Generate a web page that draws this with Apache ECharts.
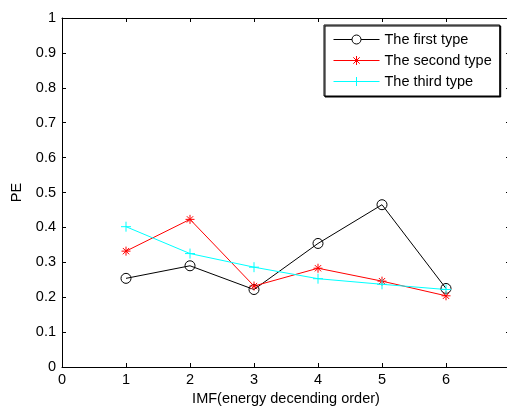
<!DOCTYPE html>
<html>
<head>
<meta charset="utf-8">
<script src="https://cdn.jsdelivr.net/npm/echarts@6/dist/echarts.min.js"></script>
<style>
html,body{margin:0;padding:0;background:#fff;}
#chart{width:507px;height:407px;}
</style>
</head>
<body>
<div id="chart"></div>
<script>
const imfIndex = [1, 2, 3, 4, 5, 6];
const firstType = [0.254, 0.290, 0.222, 0.354, 0.465, 0.225];
const secondType = [0.332, 0.423, 0.232, 0.283, 0.246, 0.204];
const thirdType = [0.402, 0.325, 0.286, 0.253, 0.237, 0.222];
const seriesNames = ['The first type', 'The second type', 'The third type'];
const seriesColors = ['#000000', '#ff0000', '#00ffff'];
const xLabel = 'IMF(energy decending order)';
const yLabel = 'PE';

const FONT = 'Liberation Sans, Arial, Helvetica, sans-serif';
const FS = 14.5;
const asterisk = 'path://M0,-5L0,5M-5,0L5,0M-3.5,-3.5L3.5,3.5M-3.5,3.5L3.5,-3.5';
const plus = 'path://M0,-5L0,5M-5,0L5,0';
// legend icons: 46 x 9 boxes, line with marker in the middle
const legCircle = 'path://M0,4.5L18.5,4.5M27.5,4.5L46,4.5M27.5,4.5A4.5,4.5,0,1,1,18.5,4.5A4.5,4.5,0,1,1,27.5,4.5';
const legAst = 'path://M0,4.5L46,4.5M23,0L23,9M19.8,1.3L26.2,7.7M19.8,7.7L26.2,1.3';
const legPlus = 'path://M0,4.5L46,4.5M23,0L23,9';
const legIcons = [legCircle, legAst, legPlus];

function pts(ys) { return imfIndex.map((x, i) => [x, ys[i]]); }

const chart = echarts.init(document.getElementById('chart'), null, {renderer: 'canvas'});

const axisCommon = {
  axisLine: {show: true, onZero: false, lineStyle: {color: '#000', width: 1}},
  axisTick: {show: true, inside: true, length: 4, lineStyle: {color: '#000', width: 1}},
  splitLine: {show: false}
};

chart.setOption({
  animation: false,
  backgroundColor: '#fff',
  textStyle: {fontFamily: FONT},
  grid: {left: 62, top: 18, width: 448, height: 349, containLabel: false, outerBoundsMode: 'none'},
  xAxis: [
    Object.assign({
      type: 'value', min: 0, max: 7, interval: 1, position: 'bottom',
      name: xLabel, nameLocation: 'middle', nameGap: 24,
      nameTextStyle: {color: '#000', fontSize: FS, fontFamily: FONT},
      axisLabel: {color: '#000', fontSize: FS, fontFamily: FONT, margin: 5, showMaxLabel: false}
    }, axisCommon),
    Object.assign({
      type: 'value', min: 0, max: 7, interval: 1, position: 'top',
      axisLabel: {show: false}
    }, axisCommon)
  ],
  yAxis: [
    Object.assign({
      type: 'value', min: 0, max: 1, interval: 0.1, position: 'left',
      name: yLabel, nameLocation: 'middle', nameGap: 31,
      nameTextStyle: {color: '#000', fontSize: FS, fontFamily: FONT},
      axisLabel: {color: '#000', fontSize: FS, fontFamily: FONT, margin: 6,
        formatter: v => (Math.round(v * 10) / 10).toString()}
    }, axisCommon),
    Object.assign({
      type: 'value', min: 0, max: 1, interval: 0.1, position: 'right',
      axisLabel: {show: false}
    }, axisCommon)
  ],
  legend: {
    orient: 'vertical',
    left: 324, top: 25,
    padding: [7, 8, 7, 9],
    itemGap: 6,
    itemWidth: 46, itemHeight: 9,
    backgroundColor: '#fff',
    borderColor: '#000', borderWidth: 1,
    shadowColor: '#000', shadowOffsetX: 1, shadowOffsetY: 1, shadowBlur: 0,
    textStyle: {color: '#000', fontSize: FS, fontFamily: FONT, lineHeight: 15},
    data: seriesNames.map((n, i) => ({
      name: n, icon: legIcons[i],
      itemStyle: {color: 'rgba(0,0,0,0)', borderColor: seriesColors[i], borderWidth: 1}
    }))
  },
  series: [
    {
      name: seriesNames[0], type: 'line', data: pts(firstType),
      symbol: 'circle', symbolSize: 10,
      lineStyle: {color: seriesColors[0], width: 1},
      itemStyle: {color: 'rgba(0,0,0,0)', borderColor: seriesColors[0], borderWidth: 1}
    },
    {
      name: seriesNames[1], type: 'line', data: pts(secondType),
      symbol: asterisk, symbolSize: 9,
      lineStyle: {color: seriesColors[1], width: 1},
      itemStyle: {color: 'rgba(0,0,0,0)', borderColor: seriesColors[1], borderWidth: 1}
    },
    {
      name: seriesNames[2], type: 'line', data: pts(thirdType),
      symbol: plus, symbolSize: 10,
      lineStyle: {color: seriesColors[2], width: 1},
      itemStyle: {color: 'rgba(0,0,0,0)', borderColor: seriesColors[2], borderWidth: 1}
    }
  ]
});
</script>
</body>
</html>
